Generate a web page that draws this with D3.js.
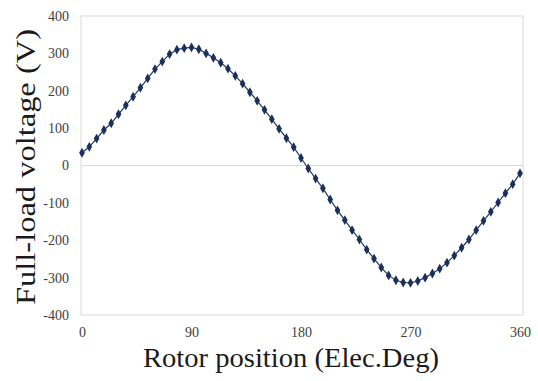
<!DOCTYPE html>
<html>
<head>
<meta charset="utf-8">
<script src="https://cdn.jsdelivr.net/npm/d3@7"></script>
<style>
  body { margin: 0; background: #fff; }
  text { font-family: "Liberation Serif", "Times New Roman", serif; }
</style>
</head>
<body>
<script>
// rotor position (elec. deg), every 6 deg
var angles = d3.range(0, 361, 6);
// full-load voltage (V)
var voltage = [34, 50, 72, 95, 113, 137, 161, 184, 208, 233,
               258, 278, 298, 310, 314, 316, 311, 300, 288, 275,
               259, 240, 219, 196, 173, 149, 124, 98, 73, 49,
               20, -8, -35, -61, -91, -120, -146, -173, -198, -225,
               -249, -273, -294, -307, -313, -314, -309, -300, -289, -276,
               -260, -241, -220, -198, -173, -148, -124, -99, -74, -50,
               -21];
var xTicks = [0, 90, 180, 270, 360];
var yTicks = [-400, -300, -200, -100, 0, 100, 200, 300, 400];

var width = 538, height = 381;
// plot area (window.top is reserved, so no "top" here)
var plotL = 81, plotR = 523, plotT = 16, plotB = 315;

var svg = d3.select("body").append("svg")
    .attr("width", width)
    .attr("height", height);

var x = d3.scaleLinear().domain([0, 360]).range([82, 520]);
var y = d3.scaleLinear().domain([-400, 400]).range([plotB, plotT]);

// plot area frame
svg.append("rect")
    .attr("x", plotL).attr("y", plotT)
    .attr("width", plotR - plotL).attr("height", plotB - plotT)
    .attr("fill", "none")
    .attr("stroke", "#d9d9d9")
    .attr("stroke-width", 1);

// zero line
svg.append("line")
    .attr("x1", plotL).attr("x2", plotR)
    .attr("y1", y(0)).attr("y2", y(0))
    .attr("stroke", "#d9d9d9")
    .attr("stroke-width", 1);

// y tick labels (plain hyphen for negatives, like the original)
var yAxis = svg.append("g")
    .attr("transform", "translate(69,0)")
    .call(d3.axisLeft(y).tickValues(yTicks).tickSize(0).tickPadding(0)
        .tickFormat(function(d) { return String(d); }));
yAxis.select(".domain").remove();
yAxis.selectAll("text")
    .attr("fill", "#404040")
    .style("font-size", "14px")
    .style("font-family", "'Liberation Serif', serif");

// x tick labels
var xAxis = svg.append("g")
    .attr("transform", "translate(0,327)")
    .call(d3.axisBottom(x).tickValues(xTicks).tickSize(0).tickPadding(0));
xAxis.select(".domain").remove();
xAxis.selectAll("text")
    .attr("fill", "#404040")
    .style("font-size", "14px")
    .style("font-family", "'Liberation Serif', serif");

var data = angles.map(function(a, i) { return {a: a, v: voltage[i]}; });

var line = d3.line()
    .x(function(d) { return x(d.a); })
    .y(function(d) { return y(d.v); });

svg.append("path")
    .datum(data)
    .attr("d", line)
    .attr("fill", "none")
    .attr("stroke", "#1f3864")
    .attr("stroke-width", 1.2);

svg.append("g").selectAll("path")
    .data(data)
    .enter().append("path")
    .attr("d", d3.symbol().type(d3.symbolDiamond).size(28))
    .attr("transform", function(d) {
        return "translate(" + x(d.a) + "," + y(d.v) + ")";
    })
    .attr("fill", "#1a2f5a");

// axis titles
svg.append("text")
    .text("Rotor position (Elec.Deg)")
    .attr("x", 291)
    .attr("y", 367)
    .attr("text-anchor", "middle")
    .attr("textLength", 296)
    .attr("lengthAdjust", "spacingAndGlyphs")
    .style("font-size", "27px")
    .attr("fill", "#1a1a1a");

svg.append("text")
    .text("Full-load voltage (V)")
    .attr("transform", "translate(35,167) rotate(-90)")
    .attr("text-anchor", "middle")
    .attr("textLength", 276)
    .attr("lengthAdjust", "spacingAndGlyphs")
    .style("font-size", "27px")
    .attr("fill", "#1a1a1a");
</script>
</body>
</html>
